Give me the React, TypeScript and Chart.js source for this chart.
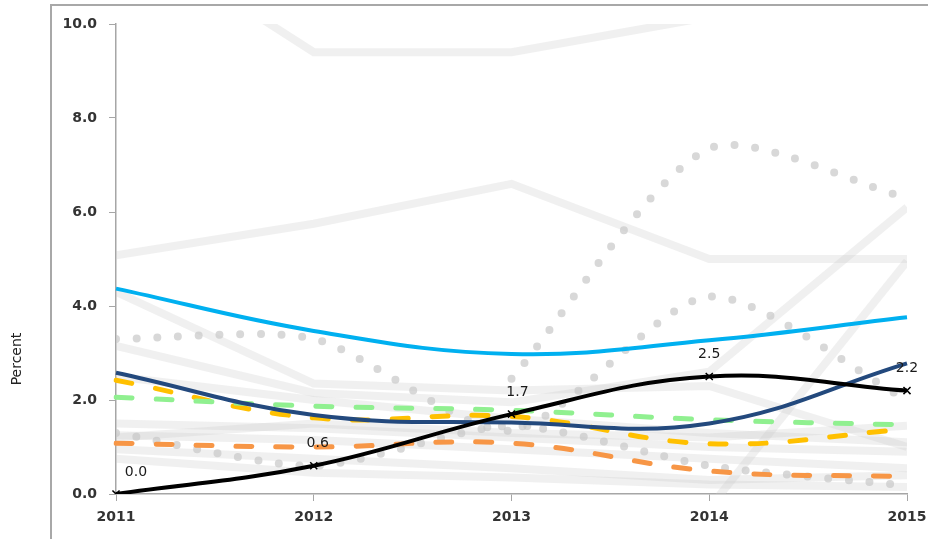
import { useEffect, useRef } from 'react';
import { Chart, registerables } from 'chart.js';

Chart.register(...registerables);

const years = ['2011', '2012', '2013', '2014', '2015'];
const yMin = 0;
const yMax = 10;
const yStep = 2;
const axisTitle = 'Percent';

// highlighted series
const lightBlue = [4.37, 3.47, 2.98, 3.27, 3.76];
const darkBlue = [2.58, 1.68, 1.52, 1.5, 2.78];
const blackLine = [0.0, 0.6, 1.7, 2.5, 2.2];
const greenDash = [2.06, 1.87, 1.78, 1.58, 1.47];
const yellowDash = [2.42, 1.62, 1.65, 1.07, 1.38];
const orangeDash = [1.08, 1.0, 1.08, 0.49, 0.37];

// grey background series (solid)
const grey1 = [12.1, 9.4, 9.4, 10.15, 10.9];
const grey2 = [5.08, 5.75, 6.6, 5.0, 5.0];
const grey3 = [3.15, 2.15, 1.95, 2.6, 6.1];
const grey4 = [null, null, null, -0.3, 4.95];
const grey5 = [4.3, 2.35, 2.2, 2.3, 1.0];
const grey6 = [1.25, 1.15, 0.95, 0.75, 0.55];
const grey7 = [0.75, 0.45, 0.35, 0.2, 0.15];
const grey8 = [0.95, 0.75, 0.55, 0.3, 0.4];
const grey9 = [1.2, 1.5, 1.3, 1.2, 1.45];
const grey10 = [2.5, 2.0, 1.6, 1.3, 1.1];
const grey11 = [1.5, 1.4, 1.2, 1.0, 0.9];

// grey background series (dotted)
const dotted1 = [3.3, 3.3, 1.35, 4.2, 2.0];
const dotted2 = [null, null, 2.45, 7.35, 6.3];
const dotted3 = [1.3, 0.6, 1.45, 0.6, 0.18];

const FONT = '"DejaVu Sans", Verdana, sans-serif';

export default function App() {
  const ref = useRef<HTMLCanvasElement | null>(null);

  useEffect(() => {
    if (!ref.current) return;

    const greySolid = (data: (number | null)[]) => ({
      data,
      borderColor: 'rgba(200,200,200,0.28)',
      borderWidth: 8,
      tension: 0,
      pointRadius: 0,
      fill: false,
      clip: 0,
      order: 20,
      spanGaps: false,
    });
    const greyDotted = (data: (number | null)[]) => ({
      data,
      borderColor: 'rgba(200,200,200,0.7)',
      borderWidth: 8,
      borderDash: [0, 20.7],
      borderCapStyle: 'round' as const,
      tension: 0.25,
      pointRadius: 0,
      fill: false,
      clip: 0,
      order: 15,
    });
    const dashed = (data: number[], color: string, order: number) => ({
      data,
      borderColor: color,
      borderWidth: 5,
      borderDash: [16, 24],
      borderCapStyle: 'round' as const,
      tension: 0.4,
      pointRadius: 0,
      fill: false,
      order,
    });
    const solid = (data: number[], color: string, order: number) => ({
      data,
      borderColor: color,
      borderWidth: 4,
      tension: 0.4,
      pointRadius: 0,
      fill: false,
      order,
    });

    const frame = {
      id: 'frame',
      beforeDraw(chart: any) {
        const { ctx } = chart;
        ctx.save();
        ctx.fillStyle = '#ffffff';
        ctx.fillRect(0, 0, chart.width, chart.height);
        ctx.strokeStyle = '#a8a8a8';
        ctx.lineWidth = 2;
        ctx.beginPath();
        ctx.moveTo(51, chart.height);
        ctx.lineTo(51, 5);
        ctx.lineTo(chart.width, 5);
        ctx.stroke();
        // axis title
        ctx.translate(17, 359);
        ctx.rotate(-Math.PI / 2);
        ctx.fillStyle = '#222222';
        ctx.font = `14px ${FONT}`;
        ctx.textAlign = 'center';
        ctx.textBaseline = 'middle';
        ctx.fillText(axisTitle, 0, 0);
        ctx.restore();
      },
    };

    const labels = {
      id: 'valueLabels',
      afterDatasetsDraw(chart: any) {
        const meta = chart.getDatasetMeta(0);
        const { ctx } = chart;
        ctx.save();
        ctx.fillStyle = '#1a1a1a';
        ctx.font = `14px ${FONT}`;
        ctx.textAlign = 'center';
        ctx.textBaseline = 'middle';
        const dx = [20, 4, 6, 0, 0];
        meta.data.forEach((pt: any, i: number) => {
          ctx.fillText(blackLine[i].toFixed(1), pt.x + dx[i], pt.y - 22);
        });
        ctx.restore();
      },
    };

    const chart = new Chart(ref.current, {
      type: 'line',
      data: {
        labels: years,
        datasets: [
          {
            data: blackLine,
            borderColor: '#000000',
            borderWidth: 4,
            tension: 0.4,
            pointStyle: 'crossRot',
            pointRadius: 5,
            pointBorderColor: '#000000',
            pointBorderWidth: 1.5,
            fill: false,
            order: 0,
          } as any,
          solid(darkBlue, '#23497d', 1),
          solid(lightBlue, '#00b0f0', 2),
          dashed(greenDash, '#90f090', 3),
          dashed(yellowDash, '#ffc000', 4),
          dashed(orangeDash, '#f79646', 5),
          greyDotted(dotted1),
          greyDotted(dotted2),
          greyDotted(dotted3),
          greySolid(grey1),
          greySolid(grey2),
          greySolid(grey3),
          greySolid(grey4),
          greySolid(grey5),
          greySolid(grey6),
          greySolid(grey7),
          greySolid(grey8),
          greySolid(grey9),
          greySolid(grey10),
          greySolid(grey11),
        ] as any,
      },
      options: {
        animation: false,
        responsive: false,
        devicePixelRatio: 1,
        layout: { padding: { left: 0, top: 24, right: 21, bottom: 0 } },
        plugins: {
          legend: { display: false },
          tooltip: { enabled: false },
        },
        scales: {
          x: {
            type: 'category',
            offset: false,
            afterFit(scale: any) {
              scale.height = 45;
              scale.paddingLeft = 0;
              scale.paddingRight = 0;
            },
            grid: {
              drawOnChartArea: false,
              drawTicks: true,
              tickLength: 7,
              color: '#a6a6a6',
            },
            border: { display: true, color: '#a6a6a6', width: 1.5 },
            ticks: {
              padding: 8,
              color: '#333333',
              font: { family: FONT, size: 14, weight: 'bold' },
              maxRotation: 0,
            },
          },
          y: {
            min: yMin,
            max: yMax,
            afterFit(scale: any) {
              scale.width = 116;
              scale.paddingTop = 0;
              scale.paddingBottom = 0;
            },
            grid: {
              drawOnChartArea: false,
              drawTicks: true,
              tickLength: 7,
              color: '#a6a6a6',
            },
            border: { display: true, color: '#a6a6a6', width: 1.5 },
            ticks: {
              stepSize: yStep,
              padding: 12,
              color: '#333333',
              font: { family: FONT, size: 14, weight: 'bold' },
              callback: (v: any) => Number(v).toFixed(1),
            },
          },
        },
      } as any,
      plugins: [frame, labels],
    });

    return () => chart.destroy();
  }, []);

  return (
    <div style={{ position: 'absolute', left: 0, top: 0, width: 928, height: 539 }}>
      <canvas ref={ref} width={928} height={539} style={{ display: 'block' }} />
    </div>
  );
}
